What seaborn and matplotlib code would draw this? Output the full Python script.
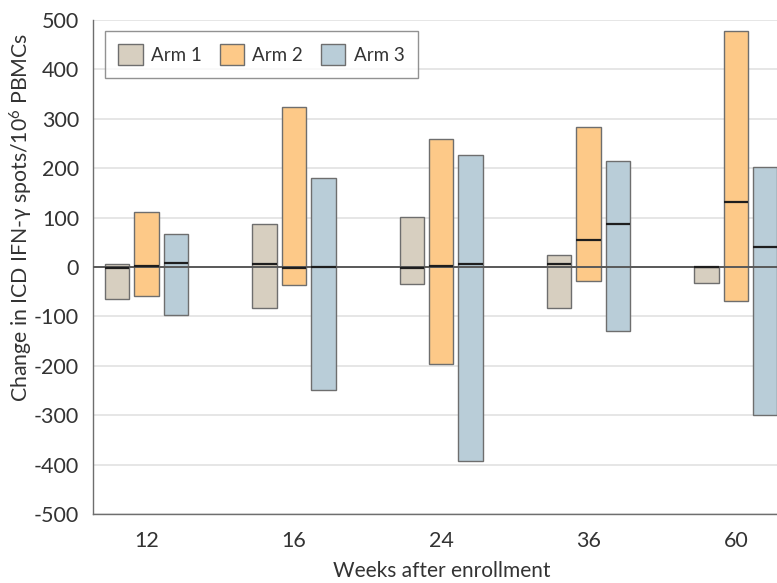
import numpy as np
import pandas as pd
import matplotlib
matplotlib.use('Agg')
import matplotlib.pyplot as plt
import seaborn as sns

# ─── Data ───────────────────────────────────────────────────────────────────
weeks = ['12', '16', '24', '36', '60']
arms = ['Arm 1', 'Arm 2', 'Arm 3']

arm1_low = [-65, -83, -34, -83, -32]
arm1_high = [7, 87, 101, 24, 0]
arm1_med = [-3, 6, -2, 6, 0]

arm2_low = [-59, -37, -197, -28, -69]
arm2_high = [112, 324, 259, 283, 478]
arm2_med = [3, -2, 1, 55, 132]

arm3_low = [-97, -250, -392, -130, -300]
arm3_high = [66, 180, 226, 214, 202]
arm3_med = [8, 0, 7, 87, 40]

colors = ['#d7cfc0', '#fdc988', '#b9cdd8']

lows = [arm1_low, arm2_low, arm3_low]
highs = [arm1_high, arm2_high, arm3_high]
meds = [arm1_med, arm2_med, arm3_med]

rows = []
for a, arm in enumerate(arms):
    for w, wk in enumerate(weeks):
        rows.append({'week': wk, 'arm': arm, 'low': lows[a][w],
                     'high': highs[a][w], 'med': meds[a][w]})
df = pd.DataFrame(rows)

# ─── Style ──────────────────────────────────────────────────────────────────
sns.set_style('white')
plt.rcParams['font.family'] = ['Lato', 'DejaVu Sans']
plt.rcParams['mathtext.fontset'] = 'custom'
plt.rcParams['mathtext.rm'] = 'Lato'
plt.rcParams['mathtext.it'] = 'Lato:italic'
plt.rcParams['axes.unicode_minus'] = False
plt.rcParams['text.color'] = '#333333'
plt.rcParams['axes.labelcolor'] = '#333333'
plt.rcParams['xtick.color'] = '#333333'
plt.rcParams['ytick.color'] = '#333333'

fig = plt.figure(figsize=(7.77, 5.83), dpi=100)
ax = fig.add_axes([0.1197, 0.1184, 0.8803, 0.8473])

# bars drawn with heights = high, then moved to span low..high
sns.barplot(data=df, x='week', y='high', hue='arm', order=weeks, hue_order=arms,
            palette=colors, width=0.6, gap=0.17, edgecolor='#6e6e6e',
            linewidth=1.0, saturation=1, ax=ax, zorder=2, legend=True)

for a, arm in enumerate(arms):
    cont = ax.containers[a]
    for w, patch in enumerate(cont.patches):
        lo, hi, md = lows[a][w], highs[a][w], meds[a][w]
        patch.set_y(lo)
        patch.set_height(hi - lo)
        x0 = patch.get_x()
        ax.plot([x0, x0 + patch.get_width()], [md, md], color='#1e1e1e',
                lw=1.6, zorder=4, solid_capstyle='butt')

ax.axhline(0, color='#595959', lw=1.4, zorder=3)

ax.set_ylim(-500, 500)
ax.set_xlim(-0.364, 4.28)
ax.set_yticks(np.arange(-500, 501, 100))
ax.yaxis.grid(True, color='#e2e2e2', lw=1.2, zorder=0)
ax.set_axisbelow(True)

for side in ['top', 'right']:
    ax.spines[side].set_visible(False)
for side in ['left', 'bottom']:
    ax.spines[side].set_color('#6e6e6e')
    ax.spines[side].set_linewidth(1.0)
ax.tick_params(axis='both', direction='out', length=6, width=1.0,
               color='#6e6e6e', labelsize=15.5, pad=4)
ax.tick_params(axis='x', pad=6)

ax.set_xlabel('Weeks after enrollment', fontsize=15)
ax.set_ylabel('Change in ICD IFN-γ spots/10$^{6}$ PBMCs', fontsize=15.3)
ax.xaxis.set_label_coords(0.51, -0.095)
ax.yaxis.set_label_coords(-0.085, 0.6)

leg = ax.legend(loc='upper left', bbox_to_anchor=(0.017, 0.978), ncol=3,
                frameon=True, fancybox=False, fontsize=13.5, handlelength=1.3,
                handleheight=1.3, handletextpad=0.45, columnspacing=0.95,
                borderpad=0.72, borderaxespad=0)
leg.get_frame().set_edgecolor('#777777')
leg.get_frame().set_linewidth(1.0)
leg.set_title(None)

fig.savefig('out.png', dpi=100)
